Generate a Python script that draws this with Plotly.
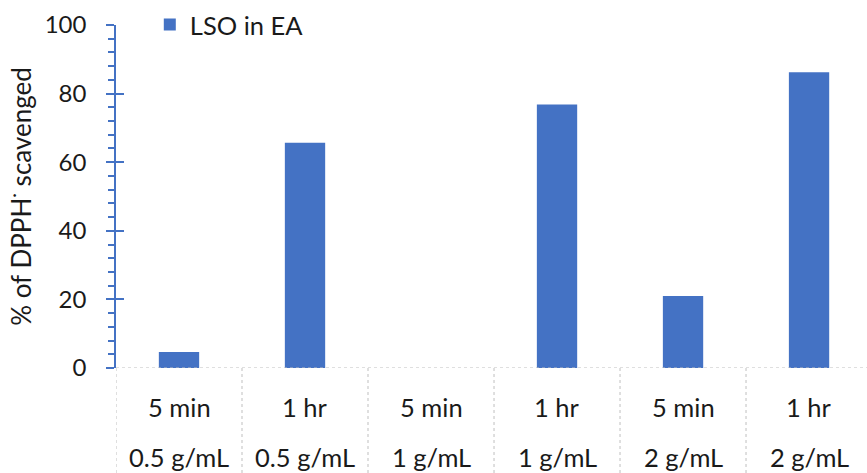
import plotly.graph_objects as go

times = ["5 min", "1 hr", "5 min", "1 hr", "5 min", "1 hr"]
concs = ["0.5 g/mL", "0.5 g/mL", "1 g/mL", "1 g/mL", "2 g/mL", "2 g/mL"]
values = [4.7, 65.7, 0, 76.8, 21.0, 86.2]
series_name = "LSO in EA"
y_title = "% of DPPH<sup>·</sup> scavenged"
y_ticks = [0, 20, 40, 60, 80, 100]

categories = [f"{t} | {c}" for t, c in zip(times, concs)]
BLUE = "#4472C4"
FONT = "Lato"
TXT = "#1a1a1a"
FS = 25.5

fig = go.Figure()
fig.add_trace(go.Bar(x=categories, y=values, name=series_name,
                     marker=dict(color=BLUE, line=dict(width=0)),
                     showlegend=True))
fig.add_trace(go.Scatter(x=categories, y=[None] * len(categories), yaxis="y2",
                         mode="lines", showlegend=False, hoverinfo="skip"))

n = len(categories)
# category cell dividers
for i in range(n + 1):
    fig.add_shape(type="line", xref="x", yref="paper", x0=i - 0.5, x1=i - 0.5,
                  y0=0, y1=-0.4, line=dict(color="#BFBFBF", width=1, dash="dot"))
# baseline
fig.add_shape(type="line", xref="paper", yref="y", x0=0, x1=1, y0=0, y1=0,
              line=dict(color="#BFBFBF", width=1.2, dash="dot"))
# two-row category labels
for c, t, cc in zip(categories, times, concs):
    fig.add_annotation(x=c, xref="x", y=0, yref="paper", text=t, showarrow=False,
                       yshift=-39, yanchor="middle", font=dict(size=FS, family=FONT, color=TXT))
    fig.add_annotation(x=c, xref="x", y=0, yref="paper", text=cc, showarrow=False,
                       yshift=-89, yanchor="middle", font=dict(size=FS, family=FONT, color=TXT))

fig.update_layout(
    width=867, height=473,
    margin=dict(l=116, r=0, t=25, b=105, autoexpand=False),
    paper_bgcolor="white", plot_bgcolor="white",
    font=dict(family=FONT, size=FS, color=TXT),
    bargap=0.68,
    showlegend=True,
    legend=dict(x=0.045, y=1.0, xanchor="left", yanchor="middle",
                bgcolor="rgba(0,0,0,0)", font=dict(size=FS, family=FONT, color=TXT)),
    xaxis=dict(range=[-0.5, n - 0.54], showticklabels=False, showgrid=False,
               showline=False, zeroline=False, ticks=""),
    yaxis=dict(range=[0, 100], tickvals=y_ticks, ticks="outside", ticklen=8,
               tickcolor=BLUE, tickwidth=1.5, showline=True, linecolor=BLUE, linewidth=1.5,
               showgrid=False, zeroline=False, ticklabelstandoff=15,
               minor=dict(dtick=4, ticks="outside", ticklen=6, tickcolor=BLUE, tickwidth=1.5),
               title=dict(text=y_title, font=dict(size=26, family=FONT, color=TXT), standoff=6),
               tickfont=dict(size=24, family=FONT, color=TXT)),
    yaxis2=dict(range=[0, 100], overlaying="y", side="left", anchor="x",
                tickvals=y_ticks, ticks="inside", ticklen=8, tickcolor=BLUE, tickwidth=1.5,
                showticklabels=False, showline=False, showgrid=False, zeroline=False),
)

fig.write_html("out.html", config={"displayModeBar": False},
               post_script="document.body.style.margin='0';")
